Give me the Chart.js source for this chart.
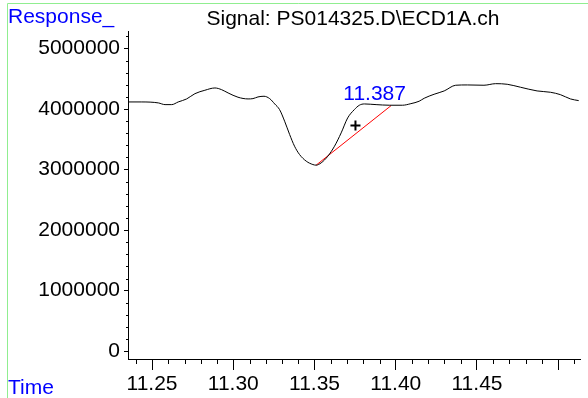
<!DOCTYPE html>
<html>
<head>
<meta charset="utf-8">
<script src="https://cdn.jsdelivr.net/npm/chart.js@4.4.1/dist/chart.umd.min.js"></script>
<style>
  html, body { margin: 0; padding: 0; background: #fff; }
  canvas { display: block; }
</style>
</head>
<body>
<canvas id="ecdChart" width="588" height="398"></canvas>
<script>
// ECD1A detector trace around the 11.387 min peak
const times = [
    11.2351, 11.2437, 11.2539, 11.2580, 11.2621, 11.2661, 11.2713, 11.2764,
    11.2825, 11.2887, 11.2928, 11.2968, 11.3029, 11.3091, 11.3121, 11.3152,
    11.3189, 11.3224, 11.3255, 11.3285, 11.3316, 11.3347, 11.3377, 11.3408,
    11.3449, 11.3490, 11.3510, 11.3541, 11.3582, 11.3623, 11.3664, 11.3704,
    11.3745, 11.3776, 11.3807, 11.3879, 11.3960, 11.4042, 11.4093, 11.4144,
    11.4175, 11.4236, 11.4298, 11.4369, 11.4441, 11.4543, 11.4615, 11.4686,
    11.4768, 11.4870, 11.4952, 11.5013, 11.5075, 11.5126
];
const response = [
    4117000, 4117000, 4101000, 4073000, 4073000, 4117000, 4167000, 4254000,
    4310000, 4348000, 4320000, 4266000, 4195000, 4167000, 4172000, 4200000,
    4211000, 4172000, 4084000, 3990000, 3799000, 3578000, 3386000, 3248000,
    3139000, 3083000, 3073000, 3111000, 3221000, 3386000, 3606000, 3853000,
    3990000, 4063000, 4084000, 4073000, 4063000, 4063000, 4089000, 4129000,
    4178000, 4244000, 4299000, 4393000, 4398000, 4393000, 4419000, 4409000,
    4360000, 4299000, 4277000, 4238000, 4167000, 4139000
];

// integration baseline of the peak
const baselineTimes = [11.3510, 11.3971];
const baselineResponse = [3073000, 4056000];

// "+" marker
const markerTimes = [11.3752];
const markerResponse = [3726000];

const peakTime = 11.387;
const peakResponse = 4073000;
const peakLabel = "11.387";

// major ticks; 11.50 gets a tick mark but no label
const xTickValues = [11.25, 11.30, 11.35, 11.40, 11.45, 11.50];
const xTickLabels = ["11.25", "11.30", "11.35", "11.40", "11.45", ""];
const yTickValues = [0, 1000000, 2000000, 3000000, 4000000, 5000000];
const yTickLabels = ["0", "1000000", "2000000", "3000000", "4000000", "5000000"];

const titleText = "Signal: PS014325.D\\ECD1A.ch";
const yAxisName = "Response_";
const xAxisName = "Time";

const FONT = "'Liberation Sans', Arial, Helvetica, sans-serif";
const BLUE = "#0000ff";

const toPoints = (xs, ys) => xs.map((x, i) => ({ x: x, y: ys[i] }));

// minor tick marks, frame, title and axis names
const decorations = {
    id: "decorations",
    afterDraw(chart) {
        const ctx = chart.ctx;
        const area = chart.chartArea;
        const xs = chart.scales.x;
        const ys = chart.scales.y;

        ctx.save();

        // light green frame
        ctx.strokeStyle = "#90ee90";
        ctx.lineWidth = 1;
        ctx.beginPath();
        ctx.moveTo(7.5, 400);
        ctx.lineTo(7.5, 3.5);
        ctx.lineTo(600, 3.5);
        ctx.stroke();

        // minor ticks
        ctx.strokeStyle = "#000";
        ctx.lineWidth = 1;
        ctx.beginPath();
        for (let k = Math.ceil(xs.min * 100); k <= Math.floor(xs.max * 100); k++) {
            if (k % 5 === 0) continue;
            const px = Math.round(xs.getPixelForValue(k / 100)) + 0.5;
            ctx.moveTo(px, area.bottom);
            ctx.lineTo(px, area.bottom + 5);
        }
        for (let v = 200000; v <= ys.max; v += 200000) {
            if (v % 1000000 === 0) continue;
            const py = Math.round(ys.getPixelForValue(v)) + 0.5;
            ctx.moveTo(area.left - 2, py);
            ctx.lineTo(area.left, py);
        }
        ctx.stroke();

        // title
        ctx.font = "21px " + FONT;
        ctx.fillStyle = "#000";
        ctx.textAlign = "center";
        ctx.textBaseline = "alphabetic";
        ctx.fillText(titleText, (area.left + area.right) / 2 - 1, 25);

        // axis names
        ctx.fillStyle = BLUE;
        ctx.textAlign = "left";
        ctx.fillText(yAxisName, 8, 23);
        ctx.fillText(xAxisName, 8, 394);

        // retention time label
        ctx.textAlign = "center";
        ctx.fillText(peakLabel, xs.getPixelForValue(peakTime),
            ys.getPixelForValue(peakResponse) - 4.5);

        ctx.restore();
    }
};

const ctx = document.getElementById("ecdChart").getContext("2d");

new Chart(ctx, {
    type: "scatter",
    plugins: [decorations],
    data: {
        datasets: [
            {
                label: "ECD1A",
                data: toPoints(times, response),
                showLine: true,
                borderColor: "#000",
                borderWidth: 1,
                pointRadius: 0,
                cubicInterpolationMode: "monotone"
            },
            {
                label: "Baseline",
                data: toPoints(baselineTimes, baselineResponse),
                showLine: true,
                borderColor: "#ff0000",
                borderWidth: 1,
                pointRadius: 0
            },
            {
                label: "Marker",
                data: toPoints(markerTimes, markerResponse),
                pointStyle: "cross",
                pointRadius: 5,
                borderColor: "#000",
                borderWidth: 2
            }
        ]
    },
    options: {
        responsive: false,
        animation: false,
        devicePixelRatio: 1,
        layout: {
            padding: { left: 0, right: 8, top: 31, bottom: 0 }
        },
        plugins: {
            legend: { display: false },
            tooltip: { enabled: false },
            title: { display: false }
        },
        scales: {
            x: {
                type: "linear",
                min: 11.2352,
                max: 11.5134,
                afterFit: (scale) => { scale.height = 39; },
                afterBuildTicks: (scale) => {
                    scale.ticks = xTickValues.map((v) => ({ value: v }));
                },
                border: { color: "#000", width: 1 },
                grid: { drawOnChartArea: false, color: "#000", tickLength: 11 },
                ticks: {
                    autoSkip: false,
                    maxRotation: 0,
                    minRotation: 0,
                    padding: 2,
                    color: "#000",
                    font: { family: FONT, size: 21 },
                    callback: (v, i) => xTickLabels[i]
                }
            },
            y: {
                type: "linear",
                min: -129000,
                max: 5289000,
                afterFit: (scale) => { scale.width = 128; },
                afterBuildTicks: (scale) => {
                    scale.ticks = yTickValues.map((v) => ({ value: v }));
                },
                border: { color: "#000", width: 1 },
                grid: { drawOnChartArea: false, color: "#000", tickLength: 4 },
                ticks: {
                    autoSkip: false,
                    padding: 4,
                    color: "#000",
                    font: { family: FONT, size: 21 },
                    callback: (v, i) => yTickLabels[i]
                }
            }
        }
    }
});
</script>
</body>
</html>
